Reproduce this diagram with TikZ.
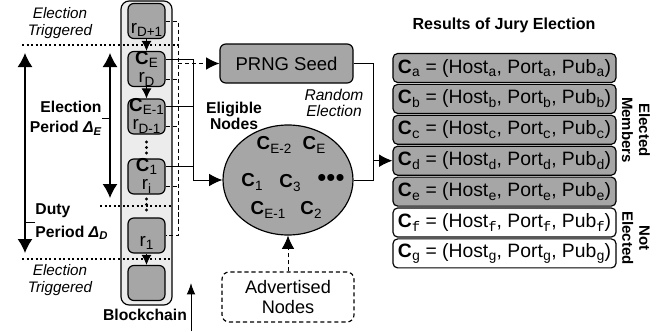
\documentclass[tikz,border=0pt]{standalone}
\usepackage{fontspec}
\setmainfont{Liberation Sans}
\setmonofont{Liberation Mono}
\usetikzlibrary{arrows.meta,shapes.geometric}
\definecolor{blockgray}{RGB}{166,166,166}
\definecolor{chainbg}{RGB}{236,236,236}
\newcommand{\lo}[1]{\raisebox{-0.35ex}{\scalebox{0.72}{#1}}}
\newcommand{\member}[1]{\textbf{C}\lo{\ttfamily #1} = (Host\lo{\ttfamily #1}, Port\lo{\ttfamily #1}, Pub\lo{\ttfamily #1})}

\begin{document}
\begin{tikzpicture}[x=0.03cm,y=-0.03cm,line width=0.85pt,
  blk/.style={draw,line width=1pt,fill=blockgray,rounded corners=5pt,minimum width=1.11cm,minimum height=1.05cm,inner sep=0pt},
  row/.style={draw,line width=1pt,rounded corners=4pt,minimum width=6.69cm,minimum height=0.87cm,inner sep=0pt,font=\fontsize{16.5}{16.5}\selectfont},
  lbl/.style={inner sep=0pt,font=\fontsize{16}{16}\selectfont},
  heading/.style={inner sep=0pt,align=center,font=\fontsize{13.4}{14}\selectfont\bfseries},
  trig/.style={inner sep=0pt,align=center,font=\fontsize{13}{14.5}\selectfont\itshape},
  side/.style={inner sep=0pt,align=center,rotate=-90,font=\fontsize{12.8}{14.5}\selectfont\bfseries},
  dashline/.style={dash pattern=on 3.5pt off 2.5pt},
  dotline/.style={line width=1.8pt,dash pattern=on 1.7pt off 2.2pt},
  tip/.style={-{Latex[length=0.4cm,width=0.38cm]}},
  smalltip/.style={-{Latex[length=0.3cm,width=0.3cm]}},
  bigarrow/.style={line width=1.1pt,{Latex[length=0.42cm,width=0.45cm]}-{Latex[length=0.42cm,width=0.45cm]}}]
\useasboundingbox (0,0) rectangle (667,331);

% blockchain
\node[draw,line width=1pt,fill=chainbg,rounded corners=7pt,minimum width=1.53cm,minimum height=9.12cm] (chain) at (146.5,153) {};
\draw[dotline] (22,45) -- (178,45);
\draw[dotline] (100,206) -- (172,206);
\draw[dotline] (22,259) -- (172,259);
\node[blk] (b1) at (146.5,21) {};
\node[blk] (b2) at (146.5,69) {};
\node[blk] (b3) at (146.5,116.5) {};
\node[blk] (b4) at (146.5,176.5) {};
\node[blk] (b5) at (146.5,235.5) {};
\node[blk] (b6) at (146.5,283) {};
\node[lbl] (rD1) at (146.5,30) {r\lo{D+1}};
\node[lbl] (cE) at (146.5,59.5) {\textbf{C}\lo{E}};
\node[lbl] (rD) at (146.5,79.5) {r\lo{D}};
\node[lbl] (cE1) at (146.5,106.5) {\textbf{C}\lo{E-1}};
\node[lbl] (rD2) at (146.5,126.5) {r\lo{D-1}};
\node[lbl] (c1) at (146.5,166.5) {\textbf{C}\lo{1}};
\node[lbl] (ri) at (146.5,186.5) {r\lo{i}};
\node[lbl] (r1) at (146.5,243) {r\lo{1}};
\fill (146.5,142) circle (1.7) (146.5,147.5) circle (1.7) (146.5,153) circle (1.7);
\fill (146.5,199) circle (1.7) (146.5,204.5) circle (1.7) (146.5,210) circle (1.7);
\draw[smalltip] (b1) -- (b2);
\draw[smalltip] (b2) -- (b3);
\draw[smalltip] (b5) -- (b6);

% periods
\draw[bigarrow] (25,53) -- (25,253);
\draw[bigarrow] (110,53) -- (110,198);
\node[trig] (trigtop) at (60,23) {Election\\Triggered};
\node[trig] (trigbot) at (60,280) {Election\\Triggered};
\node[heading,align=right,anchor=east,font=\fontsize{13.4}{17}\selectfont\bfseries] (eperiod) at (102,118) {Election\\Period \textit{Δ}\lo{\textit{E}}};
\node[heading,align=left,anchor=west,font=\fontsize{13.4}{19}\selectfont\bfseries] (dperiod) at (35,222) {Duty\\Period \textit{Δ}\lo{\textit{D}}};
\draw (eperiod.east) -- ++(8,0);
\draw (dperiod.west) -- ++(-10,0);
\node[heading] (bcname) at (145,315) {Blockchain};
\coordinate (tfoot) at (191,331);
\coordinate (thead) at (191,283);
\draw[-{Latex[length=0.34cm,width=0.26cm]}] (tfoot) -- (thead);

% election
\node[draw,line width=1pt,fill=blockgray,rounded corners=5pt,minimum width=3.99cm,minimum height=1.17cm,font=\fontsize{15.8}{15.8}\selectfont] (prng) at (286.5,63.5) {PRNG Seed};
\node[ellipse,draw,line width=1pt,fill=blockgray,minimum width=3.9cm,minimum height=3.3cm,inner sep=0pt] (elig) at (288,180) {};
\node[heading] (eligible) at (234,116) {Eligible\\Nodes};
\node[trig,font=\fontsize{13.3}{13.5}\selectfont\itshape] (random) at (334,103) {Random\\Election};
\node[lbl] (ne2) at (274,145) {\textbf{C}\lo{E-2}};
\node[lbl] (ne) at (314,145) {\textbf{C}\lo{E}};
\node[lbl] (n1) at (252,182) {\textbf{C}\lo{1}};
\node[lbl] (n3) at (290,183) {\textbf{C}\lo{3}};
\node[lbl,font=\fontsize{22}{22}\selectfont] (more) at (331,180) {•••};
\node[lbl] (ne1) at (268,210) {\textbf{C}\lo{E-1}};
\node[lbl] (n2) at (311,210) {\textbf{C}\lo{2}};
\node[draw,dashline,line width=1pt,rounded corners=6pt,minimum width=3.96cm,minimum height=1.5cm,align=center,font=\fontsize{15.5}{17}\selectfont] (adv) at (288,297) {Advertised\\Nodes};
\draw[dashline,tip] (adv) -- (elig);

% collectors
\coordinate (dx) at (178,0);
\coordinate (sx) at (193,0);
\coordinate (rx) at (373,0);
\draw[dashline] (b1.east) -- (b1.east -| dx) -- (b5.east -| dx) -- (b5.east);
\draw[dashline] (rD -| b2.east) -- (rD -| dx);
\draw[dashline] (rD2 -| b3.east) -- (rD2 -| dx);
\draw[dashline] (ri -| b4.east) -- (ri -| dx);
\draw[dashline,tip] (prng.west -| dx) -- (prng.west);
\draw[tip] (cE -| b2.east) -- (cE -| sx) |- (elig.west);
\draw (cE1 -| b3.east) -- (cE1 -| sx);
\draw (c1 -| b4.east) -- (c1 -| sx);

% results
\node[heading,font=\fontsize{13.7}{14}\selectfont\bfseries] (results) at (504,25) {Results of Jury Election};
\node[row,fill=blockgray] (ca) at (504.5,68) {\member{a}};
\node[row,fill=blockgray] (cb) at (504.5,98.9) {\member{b}};
\node[row,fill=blockgray] (cc) at (504.5,129.8) {\member{c}};
\node[row,fill=blockgray] (cd) at (504.5,160.7) {\member{d}};
\node[row,fill=blockgray] (ce) at (504.5,191.6) {\member{e}};
\node[row,fill=white] (cf) at (504.5,222.5) {\member{f}};
\node[row,fill=white] (cg) at (504.5,253.4) {\member{g}};
\node[side] (elected) at (636,130) {Elected\\Members};
\node[side] (notel) at (636,238) {Not\\Elected};
\draw (prng.east) -- (prng.east -| rx) -- (elig.east -| rx) -- (elig.east);
\draw[tip] (cd.west -| rx) -- (cd.west);
\end{tikzpicture}
\end{document}
